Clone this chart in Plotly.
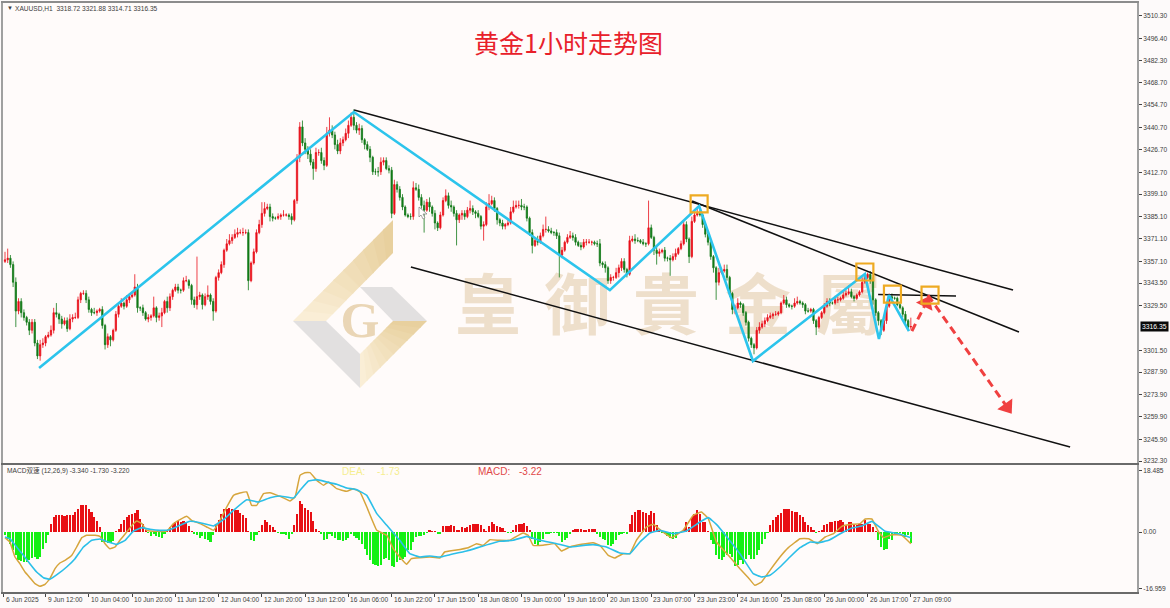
import plotly.graph_objects as go

W, H = 1170, 608

# ---------- price data (hourly XAUUSD) ----------
closes = [
 3358,3359,3355,3344,3326,3332,3325,3322,3319,3314,
 3319,3306,3298,3305,3306,3310,3311,3314,3325,3324,
 3321,3318,3320,3315,3321,3322,3322,3333,3337,3337,
 3333,3327,3325,3325,3326,3327,3317,3305,3310,3308,
 3314,3324,3329,3331,3329,3333,3335,3336,3341,3328,
 3328,3325,3321,3322,3323,3328,3322,3323,3325,3332,
 3328,3335,3339,3341,3339,3339,3345,3345,3342,3333,
 3330,3335,3336,3330,3335,3336,3332,3326,3347,3350,
 3355,3364,3368,3370,3372,3374,3375,3375,3375,3375,
 3345,3356,3363,3375,3380,3387,3390,3391,3385,3384,
 3384,3385,3386,3386,3386,3385,3383,3395,3422,3441,
 3431,3427,3424,3419,3415,3425,3425,3420,3417,3437,
 3439,3436,3430,3426,3431,3433,3437,3442,3447,3442,
 3439,3440,3433,3430,3427,3422,3413,3413,3413,3419,
 3420,3415,3414,3387,3405,3402,3397,3391,3386,3385,
 3385,3403,3402,3397,3392,3389,3394,3391,3387,3381,
 3378,3386,3395,3398,3392,3391,3387,3383,3386,3387,
 3385,3389,3390,3388,3387,3385,3379,3380,3391,3393,
 3395,3390,3383,3381,3379,3380,3381,3388,3391,3392,
 3392,3391,3391,3384,3375,3367,3370,3369,3373,3377,
 3377,3376,3375,3375,3373,3361,3364,3369,3372,3373,
 3372,3369,3367,3366,3369,3369,3369,3369,3368,3368,
 3356,3355,3353,3345,3347,3347,3350,3353,3357,3352,
 3349,3370,3371,3370,3370,3369,3368,3368,3378,3372,
 3364,3362,3363,3364,3359,3359,3358,3360,3362,3365,
 3368,3380,3371,3360,3382,3386,3387,3386,3380,3374,
 3369,3360,3353,3344,3350,3351,3352,3347,3337,3327,
 3328,3331,3330,3325,3319,3309,3305,3303,3314,3316,
 3318,3320,3322,3323,3324,3324,3325,3331,3333,3330,
 3329,3329,3331,3332,3331,3330,3326,3326,3327,3320,
 3316,3322,3325,3329,3332,3331,3331,3333,3333,3334,
 3336,3337,3338,3335,3334,3336,3338,3344,3347,3349,
 3345,3333,3325,3320,3314,3320,3329,3335,3334,3334,
 3330,3328,3324,3320,3316,3316.35]
wick_up = [
 5,6,2,2,3,2,2,2,1,2,
 2,2,2,3,3,1,2,3,3,6,
 1,2,2,2,3,2,3,2,1,2,
 2,2,1,3,1,1,2,1,2,1,
 1,2,2,3,1,3,2,2,8,2,
 1,2,1,2,1,7,1,2,3,1,
 3,2,1,2,2,1,2,3,1,1,
 2,25,2,1,2,6,1,2,1,2,
 2,1,3,4,2,3,3,2,3,2,
 2,1,2,2,3,7,4,2,2,2,
 1,2,1,3,1,1,2,1,2,3,
 4,3,2,3,2,3,2,3,2,4,
 8,3,2,3,3,2,3,3,3,5,
 2,3,2,1,2,2,1,2,3,3,
 2,2,2,2,3,2,2,2,1,1,
 2,4,3,3,2,3,2,3,1,2,
 1,2,2,4,2,3,1,2,1,2,
 2,2,5,2,1,2,1,2,3,6,
 3,2,1,1,2,1,2,3,4,3,
 3,4,2,1,1,2,2,3,2,3,
 8,2,2,1,2,2,2,1,2,3,
 2,2,1,2,2,2,2,1,1,2,
 3,1,2,1,2,1,3,2,2,2,
 1,3,2,3,2,1,2,1,17,2,
 1,2,2,1,2,1,2,2,3,1,
 2,2,2,1,3,3,3,2,1,1,
 1,2,1,1,3,2,3,3,1,1,
 2,3,1,1,1,1,1,1,2,3,
 2,2,2,2,1,2,1,1,3,2,
 1,1,3,3,1,1,1,2,1,1,
 1,1,1,2,2,2,1,2,2,1,
 2,2,4,2,1,1,1,3,2,1,
 2,2,1,1,1,1,1,2,2,1,
 1,1,1,2,1,5.53]
wick_dn = [
 1,2,2,3,10,2,3,2,2,3,
 2,2,2,3,2,2,1,1,2,2,
 3,3,1,2,1,2,1,1,2,1,
 2,2,2,1,2,1,2,3,2,4,
 1,1,2,1,2,1,2,1,1,3,
 2,2,1,2,2,1,3,2,7,1,
 3,2,2,1,2,2,1,1,2,3,
 2,3,2,3,1,2,2,6,1,2,
 1,2,1,1,2,1,2,1,2,1,
 6,1,1,1,1,2,2,1,3,2,
 1,1,2,1,1,2,3,1,2,3,
 2,3,3,2,7,2,2,2,3,1,
 2,2,3,2,2,2,1,3,1,3,
 2,3,2,3,1,3,2,2,3,2,
 2,1,2,3,1,2,2,2,1,1,
 2,2,1,2,2,14,1,3,2,4,
 2,1,1,1,2,3,2,16,2,3,
 2,1,2,2,3,1,2,9,1,2,
 1,2,3,2,2,2,1,1,1,1,
 2,2,2,2,2,5,1,2,1,1,
 2,1,1,2,2,14,2,1,1,1,
 2,2,1,2,1,2,1,2,1,2,
 2,2,3,2,2,2,1,3,2,2,
 2,1,1,2,1,1,1,2,1,1,
 3,7,2,1,2,2,10,1,2,1,
 1,1,2,4,1,1,1,1,2,2,
 2,2,3,11,2,1,1,2,2,3,
 3,1,2,2,2,2,2,4,1,2,
 1,2,1,1,2,1,1,1,1,2,
 1,2,1,1,1,2,2,1,1,2,
 5,1,1,1,1,2,1,1,2,1,
 1,1,1,1,2,1,1,1,1,1,
 2,3,2,3,3,1,2,1,1,1,
 1,1,2,2,2,1.64]

# ---------- MACD data ----------
hist = [
 -1,-2,-3.5,-5.5,-7,-8.5,-8.8,-9,-9,-8.3,
 -7.8,-7.6,-8,-7.5,-5.2,-3.2,-1,2.5,4.5,5,
 5.2,5,4.7,5,5.2,5.2,6,7,8,8,
 8,7,6,4.5,3.2,1.5,-3,-3,-3.3,-3.3,
 -2.8,.3,1,2.5,3.7,4.5,5,5.5,5.7,6.5,
 4,2.5,.5,-.3,-1.3,-.7,-1.3,-1.5,-1.7,-.6,
 .3,1.5,2.5,3,3.3,3,3.3,3,1.8,.2,
 -.5,-1,-1.7,-1.3,-2,-2.3,-3,-1,2,3.5,
 5.5,7,7,7.2,7,6.7,6.5,5.8,5,4.3,
 .1,-2.5,-2.7,-1,.3,2,3.5,3,2,1.5,
 .5,-.2,-.4,-.7,-1,-2.2,-.7,2.2,5.5,9.2,
 8.5,7.2,6.5,6,3.3,1,.3,-.7,-2.5,-2,
 -.7,-1.3,-1.7,-2.5,-2.5,-2.7,-2.5,-1.7,-.5,-1.3,
 -1.7,-2.5,-3.5,-5,-7,-8.5,-9.5,-10,-10.1,-10,
 -8,-7.7,-8.5,-10.3,-10.5,-9,
 -8.5,-8,-7.5,-5.5,-5.5,-3,-1.5,-1.3,-1.2,-1,
 -.3,.5,.3,.05,-.7,-.7,1.8,1.8,1.8,2,
 1.8,.7,.5,1.5,1.3,1.5,2,2.5,2.5,2.5,
 2,.8,.3,1.8,3,2.5,1.8,1.5,1.2,.05,
 -.2,-.2,.5,2,2.3,2.5,2.8,1.8,.5,-2,
 -3.5,-4,-3,-2,-.7,-.5,-.3,-.2,-.2,-1.3,
 -3,-2.5,-1.7,-.7,.7,1,1,.8,.5,.7,
 .8,.8,1,-.5,-1.5,-2,-2.5,-4,-4.3,-3.5,
 -2.5,-1,-.5,-.2,-.5,2.5,5,6,6.5,6.5,
 6,5.7,5,6.3,5.7,2,.7,-.2,-.7,-1.3,
 -1.7,-2,-1.7,-.7,-.3,1,3,1.5,4.5,5.5,
 6.5,5.5,3,3,.3,-2.5,-3.5,-7,-8,-8.5,
 -7.5,-7,-6.5,-7.5,-10.3,-10,-8.5,-9.5,-8,-7,
 -8,-8,-7,-5.5,-3.5,-2,-.2,2,3.7,4.5,
 5,5.7,7,7,7,6.3,6,6,
 5,4.5,3,2,1.5,.7,-.3,.05,.5,2.2,
 2.5,3,3,3.2,3.2,3.5,3,2,3,3,
 2.5,2,2.3,2.5,3.5,2.5,2.5,1.5,.05,-2.5,
 -4.5,-5.3,-5,-2,-2.5,-1,-.5,-.3,-.7,-1.5,
 -1,-3.2]
gold_bars = [0,1.8,3.7,5.5,7.4,9.2,11.1,12.9,14.8,16.6,18.5,20.3,22.2,24.7,26.5,28.4,30.2,33.3,35.1,37,38.8,40.7,42.5,45,47.5,48.7,50.6,52.4,56.1,59.8,62.3,64.7,67.2,69,72.1,74.6,77.1,79.5,82,84.5,86.9,89.4,91.2,93.1,95.6,98,101.7,105.4,107.3,109.1,110.9,112.8,115.3,117.8,119.6,122.7,126.4,128.9,131.3,133.8,137.5,141.2,143.6,146,148.5,150.3,153.4,157.1,160.8,162.6,166.3,171.3,174.4,176.8,179.3,183,186.7,189.2,191.6,193.5,195.3,199,203.3,205.8,208.9,213.2,217.5,220,223.1,225.5,228.6,231.1,233.5,237.2,239.7,242.8,246.5,250.8,254.5,257.6,260.1,263.1,267.5,271.8,274.9,277.3,279.8,282.9,286.6,289.7,294,297.2,300.3,303.3,306.4,309.5,313.2,316.3,318.1,320.6,323.1,324.9,328,331.7,335]
gold_vals = [-1.7,-3,-7.5,-9.5,-12,-13.7,-15.5,-16.3,-15.7,-14,-11,-9.3,-8.5,-7,-4.5,-1.7,-1,-1,-1.3,-3.5,-5,-4.5,-2.5,0,2.5,3.3,2.5,.5,.2,.3,2.5,3.7,4.7,3.5,2.5,1.5,.5,3.5,7.5,11,11.7,12,8,8,11.5,11.8,10.7,9.3,10.5,17,17.8,17.8,15.5,14,15,13,12.2,13,12,7.5,.5,-1,-5,-7.5,-9.7,-8,-7.7,-7.5,-7.8,-6,-5.5,-4.7,-3.5,-4,-2.3,-2.5,-2.5,-1.3,-.3,-1,-4,-4,-3.5,-5.7,-4.5,-3.7,-3.2,-4,-7,-7.8,-6.5,-6.5,-2.5,1.5,2.3,.3,-1.7,.5,5,6,4,-3,-7,-11,-13.7,-16,-15,-11.5,-7.5,-4.7,-2,-2,-3.5,-1.5,-.5,1.7,2.3,2.5,3.9,3.9,0,-1.7,-.8,-1,-3.5]
blue_bars = [0,1.8,4.3,6.8,9.2,11.7,14.2,16.6,19.7,22.8,25.9,29,32.1,35.1,38.2,41.3,44.4,47.5,50.6,53.6,57.3,61,64.7,68.4,72.1,77.1,80.8,84.5,89.4,93.7,98,101.7,106.7,109.1,112.2,115.3,119,122.7,126.4,130.1,133.8,137.5,141.2,146,149.7,153.4,157.1,160.8,164.5,170.7,176.8,183,187.9,192.9,197.8,204,208.9,213.2,217.5,222.4,227.4,231.1,234.8,238.5,242.2,247.1,252,257,260.1,263.1,267.5,271.8,276.7,279.8,282.9,286.6,290.3,294,297.8,300.9,304.6,308.9,313.2,316.9,320.6,325.5,330.5,335]
blue_vals = [-1.5,-2,-4.5,-7,-9.5,-12,-13.7,-14.2,-12.5,-10.5,-8,-4.5,-2.5,-2.1,-3,-3.7,-2.5,.3,1.3,.8,.5,.7,2,3.2,2.8,1.8,3.7,6.5,9.7,9,10.3,10.8,10.2,12.5,15.3,15.7,15,14.3,13.2,12.7,11,5.5,2,-2.5,-6.5,-7.5,-7.2,-7.5,-6.8,-5.7,-4.2,-2.8,-2.5,-1.3,-2.5,-3.5,-4.5,-4.1,-3.8,-4.5,-6.3,-6.5,-3,-.3,.5,-.5,.3,3,4.3,2.3,-2,-6.5,-12.5,-13.5,-13,-10.5,-7.5,-4.7,-3,-3.2,-2.5,-.5,1.2,1.8,3.2,.2,-.5,-1.7]

# ---------- drawn analysis ----------
zigzag_bars = [12.6,129,223.7,256.7,276.6,318,323.2,326.9,334.3]
zigzag_prices = [3290.4,3450.3,3339.1,3391.6,3294.8,3349.1,3308.5,3336,3313.5]
trend_bars = [[129.1,372.8],[254.1,375],[150.1,393.9],[322.9,351.7]]
trend_prices = [[3451.6,3339.1],[3394.7,3312.9],[3353.5,3241.1],[3336.3,3335.4]]
arrow_bars = [[335.4,340.6],[341.3,370.6]]
arrow_prices = [[3313.5,3331],[3336,3266]]
box_bars = [256.7,318,328.2,342.1]
box_prices = [3392.9,3350.4,3336.6,3336]

# ---------- tick labels ----------
price_ticks = ["3510.30","3496.40","3482.30","3468.70","3454.70","3440.70","3426.70","3412.70","3399.10","3385.10","3371.10","3357.10","3343.50","3329.50","3301.50","3287.90","3273.90","3259.90","3245.90","3232.30"]
macd_ticks = ["18.485","0.00","-16.959"]
date_labels = ["6 Jun 2025","9 Jun 12:00","10 Jun 04:00","10 Jun 20:00","11 Jun 12:00","12 Jun 04:00","12 Jun 20:00","13 Jun 12:00","16 Jun 06:00","16 Jun 22:00","17 Jun 15:00","18 Jun 08:00","19 Jun 00:00","19 Jun 16:00","20 Jun 13:00","23 Jun 07:00","23 Jun 23:00","24 Jun 16:00","25 Jun 08:00","26 Jun 00:00","26 Jun 17:00","27 Jun 09:00"]
date_bars = [-0.5,15,31,47,63,79,95,111,127,143,159,175,191,207,223,239,255,271,287,303,319,335]
watermark_chars = ["皇","御","貴","金","屬"]

opens = [closes[0] - 1] + closes[:-1]
highs = [max(o, c) + w for o, c, w in zip(opens, closes, wick_up)]
lows = [min(o, c) - w for o, c, w in zip(opens, closes, wick_dn)]
bars = list(range(len(closes)))
hist_bars = list(range(len(hist)))

# ---------- frame ----------
px_x = lambda v: v / W
px_y = lambda v: 1 - v / H
XRANGE = [(3 - 5) / 2.704, (1137 - 5) / 2.704]
FONT = "Liberation Sans"
TXT = "#3c3c3c"

fig = go.Figure()
fig.add_trace(go.Candlestick(
    x=bars, open=opens, high=highs, low=lows, close=closes, xaxis="x", yaxis="y",
    increasing=dict(line=dict(color="#e8101a", width=0.8), fillcolor="#e8101a"),
    decreasing=dict(line=dict(color="#127a18", width=0.8), fillcolor="#127a18"),
    whiskerwidth=0, showlegend=False, hoverinfo="skip"))

for bx, by in zip(trend_bars, trend_prices):
    fig.add_trace(go.Scatter(x=bx, y=by, mode="lines", xaxis="x", yaxis="y",
                             line=dict(color="#111111", width=1.5), showlegend=False, hoverinfo="skip"))
fig.add_trace(go.Scatter(x=zigzag_bars, y=zigzag_prices, mode="lines", xaxis="x", yaxis="y",
                         line=dict(color="#2cc4ec", width=2.6), showlegend=False, hoverinfo="skip"))
for bx, by in zip(arrow_bars, arrow_prices):
    fig.add_trace(go.Scatter(x=bx, y=by, mode="lines", xaxis="x", yaxis="y",
                             line=dict(color="#f04040", width=3, dash="8px,5px"),
                             showlegend=False, hoverinfo="skip"))
    fig.add_trace(go.Scatter(x=bx, y=by, mode="markers", xaxis="x", yaxis="y",
                             marker=dict(symbol="triangle-up", size=[0, 16], color="#f04040",
                                         opacity=1, angleref="previous", line=dict(width=0)),
                             showlegend=False, hoverinfo="skip"))
fig.add_trace(go.Scatter(x=box_bars, y=box_prices, mode="markers", xaxis="x", yaxis="y",
                         marker=dict(symbol="square-open", size=17, color="#eeaa22", line=dict(width=2.2, color="#eeaa22")),
                         showlegend=False, hoverinfo="skip"))

fig.add_trace(go.Bar(x=hist_bars, y=hist, xaxis="x2", yaxis="y2", width=0.78,
                     marker=dict(color=["#e80f14" if v > 0 else "#14f014" for v in hist], line=dict(width=0)),
                     showlegend=False, hoverinfo="skip"))
fig.add_trace(go.Scatter(x=gold_bars, y=gold_vals, mode="lines", xaxis="x2", yaxis="y2",
                         line=dict(color="#d6a53c", width=1.5, shape="spline", smoothing=0.25), showlegend=False, hoverinfo="skip"))
fig.add_trace(go.Scatter(x=blue_bars, y=blue_vals, mode="lines", xaxis="x2", yaxis="y2",
                         line=dict(color="#2cbfe8", width=1.6, shape="spline", smoothing=0.25), showlegend=False, hoverinfo="skip"))

# ---------- logo and watermark, under the candles ----------
def poly(points, color):
    path = "M " + " L ".join(f"{px_x(x):.5f} {px_y(y):.5f}" for x, y in points) + " Z"
    return dict(type="path", xref="paper", yref="paper", path=path, fillcolor=color,
                line=dict(width=0), layer="below")

def lerp(a, b, t):
    return (a[0] + (b[0] - a[0]) * t, a[1] + (b[1] - a[1]) * t)

def gradient_band(a, b, d, c, n=10):
    out = []
    c0, c1 = (251, 240, 218), (231, 207, 155)
    for k in range(n):
        t0, t1 = k / n, (k + 1.15) / n
        t1 = min(t1, 1)
        t = (k + 0.5) / n
        col = "rgb(%d,%d,%d)" % tuple(c0[j] + (c1[j] - c0[j]) * t for j in range(3))
        out.append(poly([lerp(a, b, t0), lerp(a, b, t1), lerp(d, c, t1), lerp(d, c, t0)], col))
    return out

shapes = []
shapes += gradient_band((293, 321), (393, 220), (326, 321), (393, 253))
shapes += gradient_band((360, 388), (427, 321), (360, 354), (393, 321))
shapes.append(poly([(293, 321), (326, 321), (360, 354), (360, 388)], "#e2e0e0"))
shapes.append(poly([(360, 287), (392, 287), (427, 321), (393, 321)], "#e2e0e0"))
shapes.append(dict(type="rect", xref="paper", yref="paper", x0=px_x(335), x1=px_x(385), y0=px_y(339), y1=px_y(290),
                   line=dict(width=0), fillcolor="rgba(0,0,0,0)", layer="below",
                   label=dict(text="<b>G</b>", font=dict(family="Liberation Serif", size=50, color="#ead6b6"),
                              textposition="middle center")))
for ch, cx in zip(watermark_chars, [488, 577, 666, 758, 849]):
    shapes.append(dict(type="rect", xref="paper", yref="paper", x0=px_x(cx - 42), x1=px_x(cx + 42), y0=px_y(351), y1=px_y(271),
                       line=dict(width=0), fillcolor="rgba(0,0,0,0)", layer="below",
                       label=dict(text="<b>" + ch + "</b>", font=dict(family="Noto Sans CJK TC", size=66, color="#eedfcb"),
                                  textposition="middle center")))
# mouse pointer left in the screenshot
shapes.append(dict(type="path", xref="paper", yref="paper",
                   path="M " + " L ".join(f"{px_x(x):.5f} {px_y(y):.5f}" for x, y in
                                          [(419, 207), (419, 217), (421, 215), (423, 219), (425, 218), (423, 214), (427, 214)]) + " Z",
                   fillcolor="#ffffff", line=dict(width=0.7, color="#808080")))

# ---------- texts ----------
def text(x, y, s, size=6.6, color=TXT, family=FONT, anchor="left", **kw):
    return dict(xref="paper", yref="paper", x=px_x(x), y=px_y(y), text=s, showarrow=False, xanchor=anchor,
                yanchor="middle", font=dict(family=family, size=size, color=color), **kw)

ann = [
    text(5, 8, "▼", size=6),
    text(13, 8, "XAUUSD,H1&nbsp;&nbsp;3318.72 3321.88 3314.71 3316.35"),
    text(568, 42, "黄金1小时走势图", size=25, color="#e8202a", family="Noto Sans CJK SC", anchor="center"),
    text(5, 471, "MACD双速 (12,26,9) -3.340 -1.730 -3.220", family="Liberation Sans, Noto Sans CJK SC"),
    text(340, 471, "DEA:", size=10, color="#f5ee90"),
    text(375, 471, "-1.73", size=10, color="#f5ee90"),
    text(476, 471, "MACD:", size=10, color="#df4848"),
    text(517, 471, "-3.22", size=10, color="#df4848"),
    text(1140, 326, "3316.35", size=6.8, color="#ffffff", bgcolor="#0a0a0a", borderpad=1),
]
for label, b in zip(date_labels, date_bars):
    ann.append(dict(xref="x2", yref="paper", x=b, y=px_y(599), text=label, showarrow=False, xanchor="left",
                    yanchor="middle", xshift=0, font=dict(family=FONT, size=6.6, color=TXT)))

fig.update_layout(
    width=W, height=H, autosize=False, margin=dict(l=0, r=0, t=0, b=0),
    paper_bgcolor="#fdfafa", plot_bgcolor="#fffbfa", bargap=0, barmode="overlay", hovermode=False,
    xaxis=dict(domain=[px_x(3), px_x(1137)], range=XRANGE, anchor="y", showgrid=False, zeroline=False,
               showticklabels=False, ticks="", showline=True, mirror=True, linecolor="#8c8c8c", linewidth=1.5,
               rangeslider=dict(visible=False)),
    yaxis=dict(domain=[px_y(463), px_y(3)], range=[3231.1, 3518.4], anchor="x", side="right", showgrid=False, zeroline=False,
               tickmode="array", tickvals=[float(v) for v in price_ticks], ticktext=price_ticks, ticks="outside", ticklen=3,
               tickcolor="#444444", tickfont=dict(family=FONT, size=6.6, color=TXT),
               showline=True, mirror=True, linecolor="#a0a0a0", linewidth=2),
    xaxis2=dict(domain=[px_x(3), px_x(1137)], range=XRANGE, anchor="y2", showgrid=False, zeroline=False,
                tickmode="array", tickvals=date_bars, ticktext=[""] * len(date_bars), ticks="outside", ticklen=3,
                tickcolor="#444444", showline=True, mirror=True, linecolor="#6a6a6a", linewidth=1.5),
    yaxis2=dict(domain=[px_y(592), px_y(465)], range=[-18.0, 20.1], anchor="x2", side="right", showgrid=False, zeroline=False,
                tickmode="array", tickvals=[float(v) for v in macd_ticks], ticktext=macd_ticks, ticks="outside", ticklen=3,
                tickcolor="#444444", tickfont=dict(family=FONT, size=6.6, color=TXT),
                showline=True, mirror=True, linecolor="#a0a0a0", linewidth=2),
    shapes=shapes, annotations=ann, showlegend=False,
)

fig.write_html("out.html", config={"displayModeBar": False},
               post_script="document.body.style.margin='0';document.body.style.overflow='hidden';")
